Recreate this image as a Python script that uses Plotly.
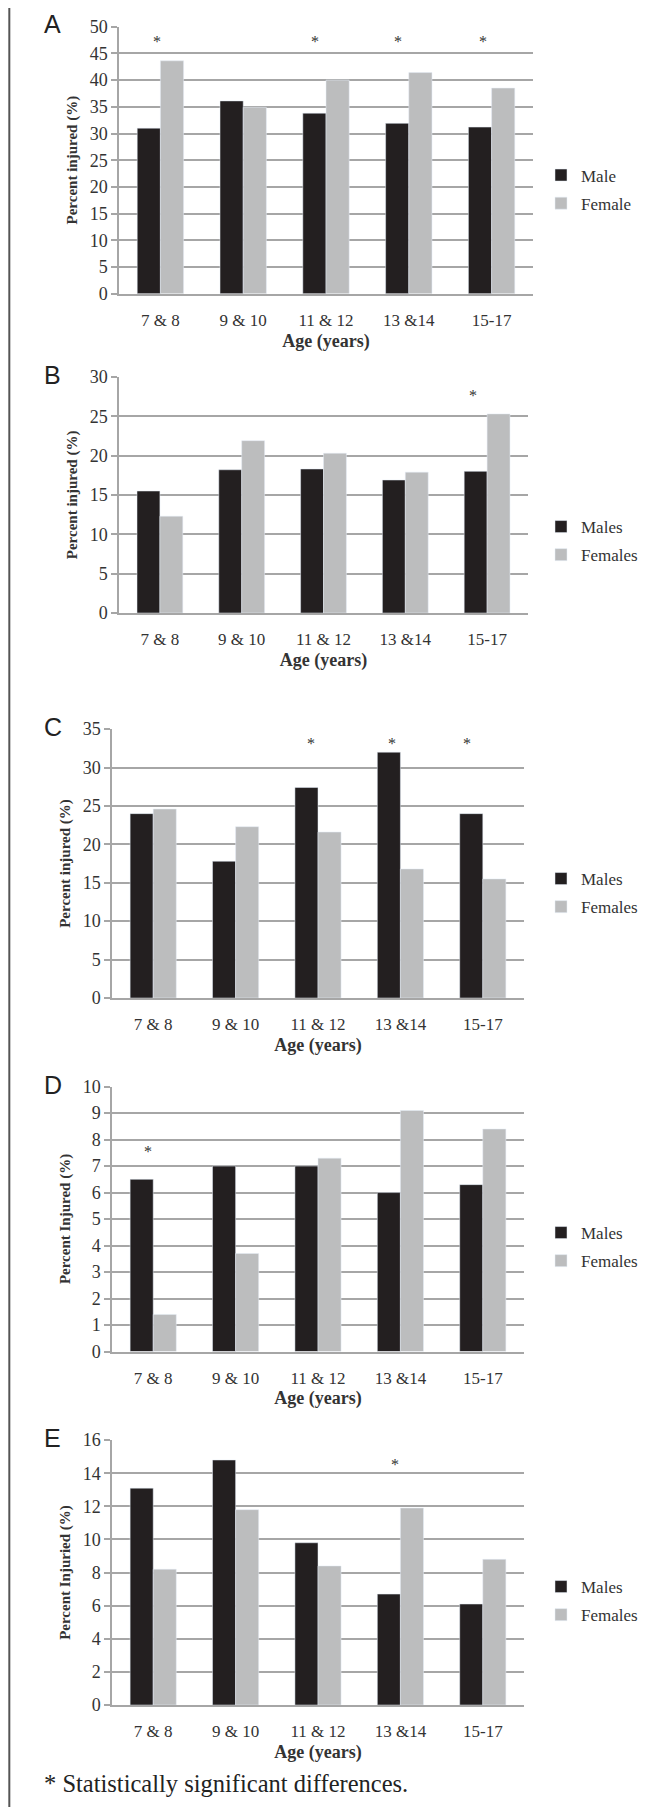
import plotly.graph_objects as go

# Datos
edades = ["7 & 8", "9 & 10", "11 & 12", "13 &14", "15-17"]

hombres_a = [31.0, 36.1, 33.8, 31.9, 31.2]
mujeres_a = [43.6, 34.9, 40.0, 41.4, 38.5]
hombres_b = [15.5, 18.2, 18.3, 16.9, 18.0]
mujeres_b = [12.3, 21.9, 20.3, 17.9, 25.3]
hombres_c = [24.0, 17.8, 27.4, 32.0, 24.0]
mujeres_c = [24.6, 22.3, 21.6, 16.8, 15.5]
hombres_d = [6.5, 7.0, 7.0, 6.0, 6.3]
mujeres_d = [1.4, 3.7, 7.3, 9.1, 8.4]
hombres_e = [13.1, 14.8, 9.8, 6.7, 6.1]
mujeres_e = [8.2, 11.8, 8.4, 11.9, 8.8]

# Diferencias significativas (categoria, altura del asterisco)
sig_a = [("7 & 8", 47.2), ("11 & 12", 47.2), ("13 &14", 47.2), ("15-17", 47.2)]
sig_b = [("15-17", 27.7)]
sig_c = [("11 & 12", 33.1), ("13 &14", 33.1), ("15-17", 33.1)]
sig_d = [("7 & 8", 7.55)]
sig_e = [("13 &14", 14.5)]

# desplazamiento horizontal de cada asterisco (px)
despl_a = [-3, -11, -11, -9]
despl_b = [-14]
despl_c = [-7, -8, -16]
despl_d = [-5]
despl_e = [-5]

# la pagina deja 8 px de margen en el body: se compensa
OFF = 8
W, H = 666 - OFF, 1807 - OFF
NEGRO = "#231f20"
GRIS = "#bcbdbe"
REJILLA = "#a6a6a6"
TEXTO = "#333333"
SERIF = "Liberation Serif, Times New Roman, serif"

def px(x):
    return (x - OFF) / W

def py(y):
    return 1 - (y - OFF) / H

# Paneles: letra, datos, nombres, titulo eje y, maximo, paso, caja en pixeles,
# centro de la leyenda, asteriscos
paneles = [
    ("A", hombres_a, mujeres_a, ("Male", "Female"), "Percent injured (%)", 50, 5,
     (119, 533, 26.5, 293.8), 189.5, sig_a, despl_a),
    ("B", hombres_b, mujeres_b, ("Males", "Females"), "Percent injured (%)", 30, 5,
     (119, 528, 376.8, 613), 541, sig_b, despl_b),
    ("C", hombres_c, mujeres_c, ("Males", "Females"), "Percent injured (%)", 35, 5,
     (112, 524, 729, 998), 893, sig_c, despl_c),
    ("D", hombres_d, mujeres_d, ("Males", "Females"), "Percent Injured (%)", 10, 1,
     (112, 524, 1086.5, 1351.5), 1247, sig_d, despl_d),
    ("E", hombres_e, mujeres_e, ("Males", "Females"), "Percent Injuried (%)", 16, 2,
     (112, 524, 1440, 1705), 1601, sig_e, despl_e),
]

fig = go.Figure()
anotaciones = []
layout = {}

for i, (letra, hom, muj, nombres, ytitulo, ymax, paso, caja, ley_y, sig, despl) in enumerate(paneles):
    n = "" if i == 0 else str(i + 1)
    leg = "legend" + n
    x0, x1, y0, y1 = caja

    fig.add_trace(go.Bar(x=edades, y=hom, name=nombres[0], marker_color=NEGRO,
                         xaxis="x" + n, yaxis="y" + n, legend=leg,
                         legendgroup=letra + "m"))
    fig.add_trace(go.Bar(x=edades, y=muj, name=nombres[1], marker_color=GRIS,
                         xaxis="x" + n, yaxis="y" + n, legend=leg,
                         legendgroup=letra + "f"))

    layout["xaxis" + n] = dict(
        domain=[px(x0), px(x1)], anchor="y" + n, automargin=False,
        showline=True, linecolor=REJILLA, linewidth=1.5,
        ticks="outside", ticklen=10, tickcolor="rgba(0,0,0,0)",
        tickfont=dict(family=SERIF, size=17, color=TEXTO),
        title=dict(text="<b>Age (years)</b>", standoff=5,
                   font=dict(family=SERIF, size=18, color=TEXTO)),
        fixedrange=True,
    )
    layout["yaxis" + n] = dict(
        domain=[py(y1), py(y0)], anchor="x" + n, automargin=False,
        range=[0, ymax * 1.0005], dtick=paso, tick0=0,
        showline=True, linecolor=REJILLA, linewidth=1.5,
        showgrid=True, gridcolor=REJILLA, gridwidth=1.5,
        ticks="outside", ticklen=6, tickcolor=REJILLA, tickwidth=1.5,
        tickfont=dict(family=SERIF, size=18, color=TEXTO),
        title=dict(text="<b>" + ytitulo + "</b>", standoff=8,
                   font=dict(family=SERIF, size=15, color=TEXTO)),
        zeroline=False, fixedrange=True,
    )
    layout[leg] = dict(
        x=px(541), y=py(ley_y), xanchor="left", yanchor="middle",
        font=dict(family=SERIF, size=17, color=TEXTO),
        tracegroupgap=3, bgcolor="rgba(0,0,0,0)", itemwidth=30,
    )

    anotaciones.append(dict(
        x=px(42), y=py(y0 - 2), xref="paper", yref="paper",
        xanchor="left", yanchor="middle", text=letra, showarrow=False,
        font=dict(family="Liberation Sans, Arial, sans-serif", size=25, color="#222222"),
    ))
    for (cat, alto), dx in zip(sig, despl):
        anotaciones.append(dict(
            x=cat, y=alto, xref="x" + n, yref="y" + n, text="*", showarrow=False,
            xshift=dx, font=dict(family=SERIF, size=16, color=TEXTO),
        ))

anotaciones.append(dict(
    x=px(42), y=py(1783), xref="paper", yref="paper", xanchor="left",
    yanchor="middle", text="* Statistically significant differences.",
    showarrow=False, font=dict(family=SERIF, size=24.5, color="#222222"),
))

fig.update_layout(
    width=W, height=H,
    margin=dict(l=0, r=0, t=0, b=0),
    font=dict(family=SERIF, color=TEXTO),
    paper_bgcolor="white", plot_bgcolor="white",
    barmode="group", bargap=0.44, bargroupgap=0,
    annotations=anotaciones,
    shapes=[dict(type="line", xref="paper", yref="paper",
                 x0=0.002, x1=0.002, y0=0, y1=1,
                 line=dict(color="#555555", width=2))],
    **layout,
)

fig.write_html("out.html")
